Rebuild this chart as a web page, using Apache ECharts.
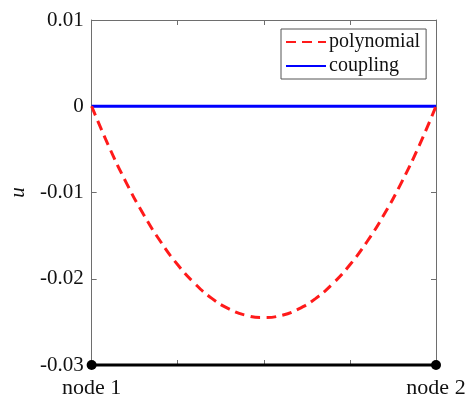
<!DOCTYPE html>
<html><head><meta charset="utf-8">
<script src="https://cdn.jsdelivr.net/npm/echarts@6/dist/echarts.min.js"></script>
<style>html,body{margin:0;padding:0;background:#fff}#c{width:472px;height:399px}</style>
</head><body><div id="c"></div>
<script>
const xPos = [0, 0.05, 0.1, 0.15, 0.2, 0.25, 0.3, 0.35, 0.4, 0.45, 0.5, 0.55, 0.6, 0.65, 0.7, 0.75, 0.8, 0.85, 0.9, 0.95, 1];
const polynomial = [0, -0.00466, -0.00882, -0.0125, -0.01568, -0.01838, -0.02058, -0.0223, -0.02352, -0.02426, -0.0245, -0.02426, -0.02352, -0.0223, -0.02058, -0.01838, -0.01568, -0.0125, -0.00882, -0.00466, 0];
const couplingX = [0, 1];
const coupling = [0, 0];
const nodeX = [0, 1];
const nodeY = [-0.03, -0.03];
const nodeLabels = ['node 1', 'node 2'];
const yTicks = [-0.03, -0.02, -0.01, 0, 0.01];

const font = 'Liberation Serif';
const axisColor = '#6e6e6e';
const chart = echarts.init(document.getElementById('c'));
function fmtY(v){ const r = Math.round(v*1000)/1000; return r === 0 ? '0' : r.toFixed(2); }
const line = {show: true, onZero: false, lineStyle: {color: axisColor, width: 1}};
const tick = {show: true, inside: true, length: 5, lineStyle: {color: axisColor}};
chart.setOption({
  animation: false,
  grid: {left: 90, top: 20, width: 346, height: 345},
  legend: {
    data: ['polynomial', 'coupling'],
    orient: 'vertical', left: 281, top: 29,
    padding: [3, 6, 3, 4], itemGap: 4,
    itemWidth: 40, itemHeight: 20,
    itemStyle: {opacity: 0},
    backgroundColor: '#fff', borderColor: '#555', borderWidth: 1,
    textStyle: {fontFamily: font, fontSize: 20, color: '#111', padding: [0,0,0,-2]}
  },
  xAxis: [{
    type: 'value', min: 0, max: 1, interval: 0.25,
    axisLine: line, axisTick: tick, splitLine: {show: false},
    axisLabel: {fontFamily: font, fontSize: 22, color: '#111', margin: 12,
      formatter: v => v === nodeX[0] ? nodeLabels[0] : (v === nodeX[1] ? nodeLabels[1] : '')}
  }, {
    type: 'value', min: 0, max: 1, interval: 0.25, position: 'top',
    axisLine: line, axisTick: tick, splitLine: {show: false}, axisLabel: {show: false}
  }],
  yAxis: [{
    type: 'value', min: yTicks[0], max: yTicks[yTicks.length-1], interval: 0.01,
    name: 'u', nameLocation: 'middle', nameGap: 62, nameRotate: 90,
    nameTextStyle: {fontFamily: font, fontSize: 21, fontStyle: 'italic', color: '#111'},
    axisLine: line, axisTick: tick, splitLine: {show: false},
    axisLabel: {fontFamily: font, fontSize: 21, color: '#111', margin: 8, formatter: fmtY}
  }, {
    type: 'value', min: yTicks[0], max: yTicks[yTicks.length-1], interval: 0.01, position: 'right',
    axisLine: line, axisTick: tick, splitLine: {show: false}, axisLabel: {show: false}
  }],
  series: [{
    name: 'coupling', type: 'line', symbol: 'none', z: 3,
    data: couplingX.map((x, i) => [x, coupling[i]]),
    lineStyle: {color: '#0000ff', width: 3}, itemStyle: {color: '#0000ff'}
  }, {
    name: 'polynomial', type: 'line', symbol: 'none', smooth: true, z: 4,
    data: xPos.map((x, i) => [x, polynomial[i]]),
    lineStyle: {color: '#ff1a1a', width: 3, type: [10, 6]}, itemStyle: {color: '#ff1a1a'}
  }, {
    name: 'nodes', type: 'line', symbol: 'circle', symbolSize: 10, clip: false, z: 5,
    data: nodeX.map((x, i) => [x, nodeY[i]]),
    lineStyle: {color: '#000', width: 3}, itemStyle: {color: '#000'}
  }]
});
</script></body></html>
